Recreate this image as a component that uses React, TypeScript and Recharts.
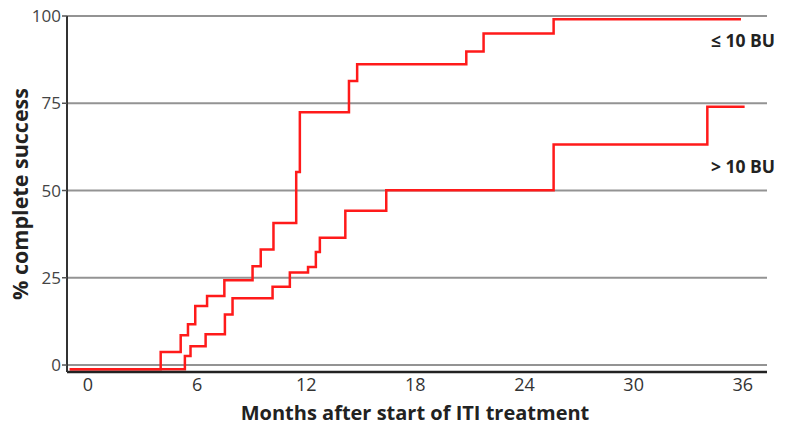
import React from "react";
import { LineChart, Line, XAxis, YAxis, CartesianGrid, Customized } from "recharts";

// ≤ 10 BU group: [month, % complete success]
const lowTitreMonths = [-1, 4.0, 5.1, 5.5, 5.9, 6.55, 7.5, 9.05, 9.5, 10.2, 11.45, 11.65, 14.35, 14.8, 20.8, 21.75, 25.6, 35.9];
const lowTitreSuccess = [-1.2, 3.7, 8.5, 11.7, 16.9, 19.8, 24.3, 28.3, 33.1, 40.7, 55.3, 72.4, 81.4, 86.2, 89.8, 95.0, 99.1, 99.1];

// > 10 BU group
const highTitreMonths = [-1, 5.33, 5.64, 6.47, 7.53, 7.95, 10.15, 11.1, 12.1, 12.53, 12.75, 14.15, 16.4, 25.6, 34.05, 36.1];
const highTitreSuccess = [-1.2, 2.6, 5.4, 8.8, 14.5, 19.1, 22.4, 26.5, 28.1, 32.4, 36.5, 44.2, 50.1, 63.2, 74.0, 74.0];

const xTicks = [0, 6, 12, 18, 24, 30, 36];
const yTicks = [0, 25, 50, 75, 100];

const seriesLabels = ["≤ 10 BU", "> 10 BU"];
const xTitle = "Months after start of ITI treatment";
const yTitle = "% complete success";

const lowData = lowTitreMonths.map((m, i) => ({ month: m, value: lowTitreSuccess[i] }));
const highData = highTitreMonths.map((m, i) => ({ month: m, value: highTitreSuccess[i] }));

const FONT = "'Open Sans', sans-serif";

const Annotations = () => (
  <g>
    <text x={775} y={47} textAnchor="end" fontFamily={FONT} fontWeight={700} fontSize={17.5} fill="#222">
      {seriesLabels[0]}
    </text>
    <text x={775} y={173} textAnchor="end" fontFamily={FONT} fontWeight={700} fontSize={17.5} fill="#222">
      {seriesLabels[1]}
    </text>
    <text x={415} y={420} textAnchor="middle" fontFamily={FONT} fontWeight={700} fontSize={20} fill="#222">
      {xTitle}
    </text>
    <text
      x={28}
      y={194}
      textAnchor="middle"
      transform="rotate(-90 28 194)"
      fontFamily={FONT}
      fontWeight={700}
      fontSize={21.5}
      fill="#222"
    >
      {yTitle}
    </text>
  </g>
);

export default function App() {
  return (
    <div style={{ position: "absolute", left: 0, top: 0 }}>
      <LineChart width={785} height={432} margin={{ top: 16, right: 18, bottom: 0, left: 0 }}>
        <CartesianGrid vertical={false} stroke="#939393" strokeWidth={2} />
        <XAxis
          type="number"
          dataKey="month"
          domain={[-1.15, 37.33]}
          ticks={xTicks}
          allowDataOverflow
          height={60}
          tickLine={false}
          tickSize={0}
          tickMargin={6}
          axisLine={{ stroke: "#222", strokeWidth: 2.5 }}
          tick={{ fontFamily: FONT, fontSize: 18, fill: "#333" }}
        />
        <YAxis
          type="number"
          dataKey="value"
          domain={[-2, 100]}
          ticks={yTicks}
          allowDataOverflow
          width={67}
          tickSize={5}
          tickMargin={1}
          tickLine={{ stroke: "#555", strokeWidth: 1.5 }}
          axisLine={{ stroke: "#333", strokeWidth: 2 }}
          tick={{ fontFamily: FONT, fontSize: 17, fill: "#444" }}
        />
        <Line
          data={lowData}
          dataKey="value"
          type="stepAfter"
          stroke="#ff1a1a"
          strokeWidth={2.5}
          dot={false}
          activeDot={false}
          isAnimationActive={false}
        />
        <Line
          data={highData}
          dataKey="value"
          type="stepAfter"
          stroke="#ff1a1a"
          strokeWidth={2.5}
          dot={false}
          activeDot={false}
          isAnimationActive={false}
        />
        <Customized component={Annotations} />
      </LineChart>
    </div>
  );
}
